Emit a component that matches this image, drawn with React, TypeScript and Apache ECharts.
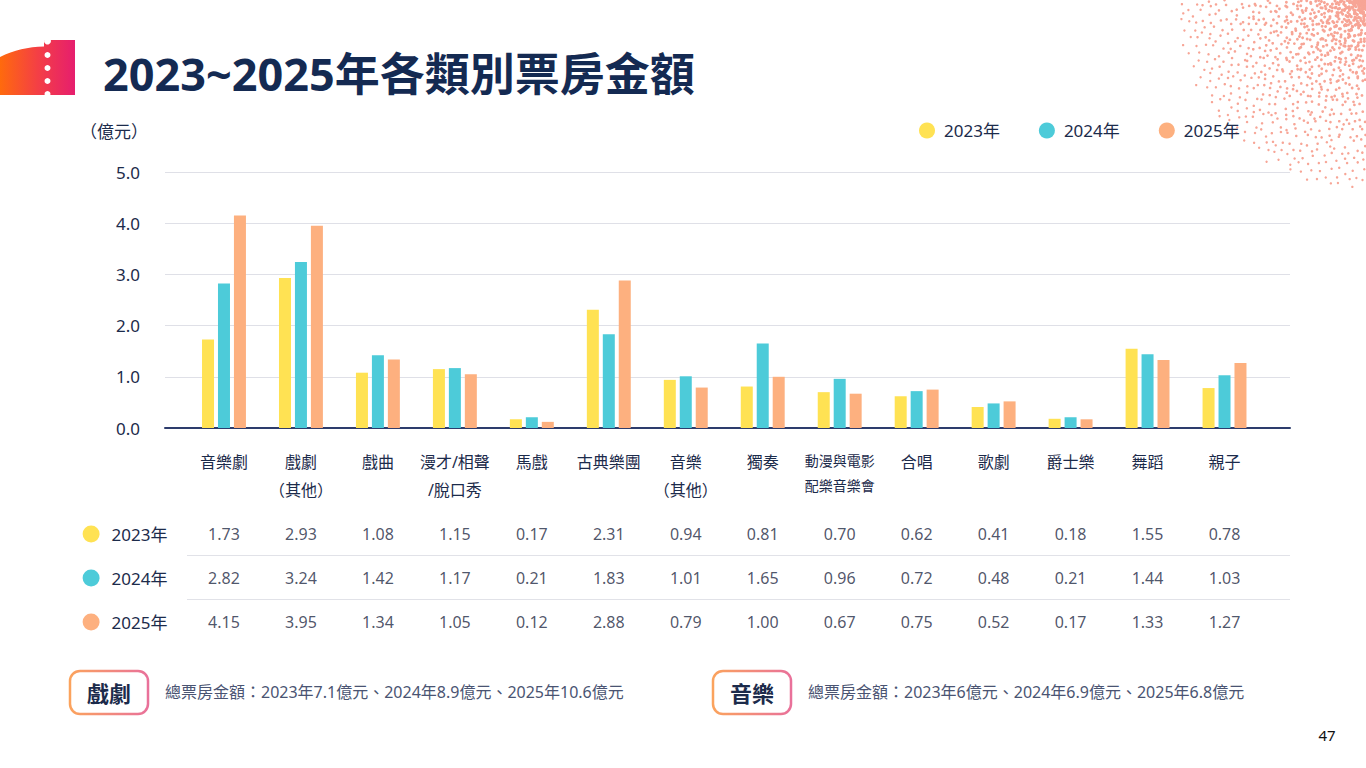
import React, { useEffect, useRef } from 'react';
import * as echarts from 'echarts';

const categories = [
  '音樂劇',
  '戲劇\n（其他）',
  '戲曲',
  '漫才/相聲\n/脫口秀',
  '馬戲',
  '古典樂團',
  '音樂\n（其他）',
  '獨奏',
  '動漫與電影\n配樂音樂會',
  '合唱',
  '歌劇',
  '爵士樂',
  '舞蹈',
  '親子',
];
const years = ['2023年', '2024年', '2025年'];
const v2023 = [1.73, 2.93, 1.08, 1.15, 0.17, 2.31, 0.94, 0.81, 0.7, 0.62, 0.41, 0.18, 1.55, 0.78];
const v2024 = [2.82, 3.24, 1.42, 1.17, 0.21, 1.83, 1.01, 1.65, 0.96, 0.72, 0.48, 0.21, 1.44, 1.03];
const v2025 = [4.15, 3.95, 1.34, 1.05, 0.12, 2.88, 0.79, 1.0, 0.67, 0.75, 0.52, 0.17, 1.33, 1.27];
const yMin = 0;
const yMax = 5;
const yInterval = 1;
const title = '2023~2025年各類別票房金額';
const unitLabel = '（億元）';
const dramaTag = '戲劇';
const musicTag = '音樂';
const dramaTotal = '總票房金額：2023年7.1億元、2024年8.9億元、2025年10.6億元';
const musicTotal = '總票房金額：2023年6億元、2024年6.9億元、2025年6.8億元';
const pageNo = '47';

const COLORS = ['#FFE253', '#4DCBD9', '#FDB07F'];
const NAVY = '#1c2b4b';
const FONT = '"Noto Sans", "Noto Sans CJK TC", sans-serif';

function frac(v: number) {
  return v - Math.floor(v);
}

// decorative halftone dots in the top-right corner (not data)
function buildDots() {
  const out: any[] = [];
  const N = 3400;
  const R = 188;
  const golden = Math.PI * (3 - Math.sqrt(5));
  for (let n = 1; n <= N; n++) {
    const t = n / N;
    const r = R * Math.pow(t, 1.1);
    const a = n * golden;
    const jx = (frac(Math.sin(n * 12.9898) * 43758.5453) - 0.5) * 5;
    const jy = (frac(Math.sin(n * 78.233) * 24634.6345) - 0.5) * 5;
    const x = 1366 + r * Math.cos(a) + jx;
    const y = r * Math.sin(a) + jy;
    if (x < 1366 && y > 0) {
      out.push({
        type: 'circle',
        silent: true,
        shape: { cx: x, cy: y, r: 1.6 - 0.4 * (r / R) },
        style: { fill: '#F7A596' },
      });
    }
  }
  return out;
}

function tagBox(x: number, label: string, sub: string, subX: number) {
  const grad = new echarts.graphic.LinearGradient(0, 0, 1, 0, [
    { offset: 0, color: '#FBA35D' },
    { offset: 1, color: '#E9719A' },
  ]);
  return [
    {
      type: 'rect',
      shape: { x, y: 671, width: 78, height: 43, r: 10 },
      style: { fill: '#fff', stroke: grad, lineWidth: 2.5 },
    },
    {
      type: 'text',
      style: {
        text: label,
        x: x + 39,
        y: 693,
        align: 'center',
        verticalAlign: 'middle',
        fontSize: 22,
        fontWeight: 'bold',
        fontFamily: FONT,
        fill: NAVY,
      },
    },
    {
      type: 'text',
      style: {
        text: sub,
        x: subX,
        y: 692,
        align: 'left',
        verticalAlign: 'middle',
        fontSize: 16,
        fontFamily: FONT,
        fill: '#4a5472',
      },
    },
  ];
}

export default function App() {
  const ref = useRef<HTMLDivElement>(null);
  useEffect(() => {
    document.body.style.margin = '0';
    try {
      echarts.graphic.registerShape(
        'ticketLogo',
        echarts.graphic.extendPath('M0 57 C14 50 28 47 44 46.5 L44 40 L75 40 L75 95 L0 95 Z', {})
      );
    } catch (e) {}
    const chart = echarts.init(ref.current!, null, { renderer: 'svg' });

    const tableData: any[] = [];
    [v2023, v2024, v2025].forEach((arr, yi) => {
      arr.forEach((v, ci) => tableData.push([categories[ci], years[yi], v]));
    });

    const logoGrad = new echarts.graphic.LinearGradient(0, 0, 1, 0, [
      { offset: 0, color: '#FF6A0D' },
      { offset: 0.5, color: '#F43F45' },
      { offset: 1, color: '#E61E6E' },
    ]);

    const option: any = {
      animation: false,
      textStyle: { fontFamily: FONT },
      legend: {
        data: years,
        left: 914,
        top: 117,
        icon: 'circle',
        itemWidth: 16,
        itemHeight: 16,
        itemGap: 39,
        textStyle: { fontSize: 17, color: NAVY, padding: [0, 0, 0, 4] },
      },
      grid: [
        { left: 165, top: 172, width: 1125, height: 256, outerBoundsMode: 'none' },
        { left: 185.5, top: 172, width: 1077.5, height: 256, outerBoundsMode: 'none' },
        { left: 185.5, top: 512, width: 1077.5, height: 132, outerBoundsMode: 'none' },
      ],
      xAxis: [
        {
          gridIndex: 0,
          type: 'value',
          min: 0,
          max: 1,
          axisLine: { show: true, lineStyle: { color: '#2d3c6c', width: 2 } },
          axisTick: { show: false },
          axisLabel: { show: false },
          splitLine: { show: false },
        },
        {
          gridIndex: 1,
          type: 'category',
          data: categories,
          axisLine: { show: false },
          axisTick: { show: false },
          axisLabel: {
            interval: 0,
            margin: 20,
            fontSize: 16,
            lineHeight: 28,
            color: NAVY,
            formatter: (v: string) => {
              if (v.indexOf('動漫') === 0) {
                return v
                  .split('\n')
                  .map((s) => `{s|${s}}`)
                  .join('\n');
              }
              return v;
            },
            rich: {
              s: { fontSize: 14, lineHeight: 25, color: NAVY, fontFamily: FONT },
            },
          },
        },
        {
          gridIndex: 2,
          type: 'category',
          data: categories,
          show: false,
        },
      ],
      yAxis: [
        {
          gridIndex: 0,
          type: 'value',
          min: yMin,
          max: yMax,
          interval: yInterval,
          axisLine: { show: false },
          axisTick: { show: false },
          axisLabel: {
            margin: 25,
            fontSize: 17,
            color: NAVY,
            formatter: (v: number) => v.toFixed(1),
          },
          splitLine: { show: true, lineStyle: { color: '#dfe0e7', width: 1 } },
        },
        {
          gridIndex: 1,
          type: 'value',
          min: yMin,
          max: yMax,
          show: false,
        },
        {
          gridIndex: 2,
          type: 'category',
          data: years,
          inverse: true,
          axisLine: { show: false },
          axisTick: { show: false },
          splitLine: { show: false },
          axisLabel: {
            margin: 18,
            formatter: (v: string, i: number) => `{d${i}|}{t|${v}}`,
            rich: {
              d0: { width: 17, height: 17, borderRadius: 8.5, backgroundColor: COLORS[0] },
              d1: { width: 17, height: 17, borderRadius: 8.5, backgroundColor: COLORS[1] },
              d2: { width: 17, height: 17, borderRadius: 8.5, backgroundColor: COLORS[2] },
              t: { fontSize: 17, color: NAVY, padding: [0, 0, 0, 12], fontFamily: FONT },
            },
          },
        },
      ],
      series: [
        ...[v2023, v2024, v2025].map((arr, i) => ({
          name: years[i],
          type: 'bar',
          xAxisIndex: 1,
          yAxisIndex: 1,
          data: arr,
          barWidth: 12,
          barGap: '33%',
          itemStyle: { color: COLORS[i] },
        })),
        {
          name: 'table',
          type: 'scatter',
          xAxisIndex: 2,
          yAxisIndex: 2,
          data: tableData,
          symbol: 'circle',
          symbolSize: 1,
          itemStyle: { color: 'rgba(0,0,0,0)' },
          label: {
            show: true,
            position: 'inside',
            fontSize: 16,
            color: '#1f2a44',
            formatter: (p: any) => p.value[2].toFixed(2),
          },
          silent: true,
        },
      ],
      graphic: [
        { type: 'group', silent: true, children: buildDots() },
        {
          type: 'ticketLogo',
          x: 0,
          y: 0,
          style: { fill: logoGrad },
        },
        ...[41, 55, 68, 81, 94].map((cy) => ({
          type: 'circle',
          shape: { cx: 47.5, cy, r: cy === 41 ? 3.5 : 3 },
          style: { fill: '#fff' },
        })),
        {
          type: 'text',
          style: {
            text: title,
            x: 103,
            y: 73,
            align: 'left',
            verticalAlign: 'middle',
            fontSize: 45,
            fontWeight: 'bold',
            fontFamily: FONT,
            fill: '#142a52',
          },
        },
        {
          type: 'text',
          style: {
            text: unitLabel,
            x: 80,
            y: 131,
            align: 'left',
            verticalAlign: 'middle',
            fontSize: 17,
            fontFamily: FONT,
            fill: NAVY,
          },
        },
        {
          type: 'line',
          shape: { x1: 187, y1: 555.5, x2: 1290, y2: 555.5 },
          style: { stroke: '#e1e2e8', lineWidth: 1 },
        },
        {
          type: 'line',
          shape: { x1: 187, y1: 599.5, x2: 1290, y2: 599.5 },
          style: { stroke: '#e1e2e8', lineWidth: 1 },
        },
        ...tagBox(70, dramaTag, dramaTotal, 165),
        ...tagBox(713, musicTag, musicTotal, 808),
        {
          type: 'text',
          style: {
            text: pageNo,
            x: 1327,
            y: 735,
            align: 'center',
            verticalAlign: 'middle',
            fontSize: 15,
            fontFamily: FONT,
            fill: '#111',
          },
        },
      ],
    };
    chart.setOption(option);
    return () => chart.dispose();
  }, []);
  return <div ref={ref} style={{ width: 1366, height: 768 }} />;
}
